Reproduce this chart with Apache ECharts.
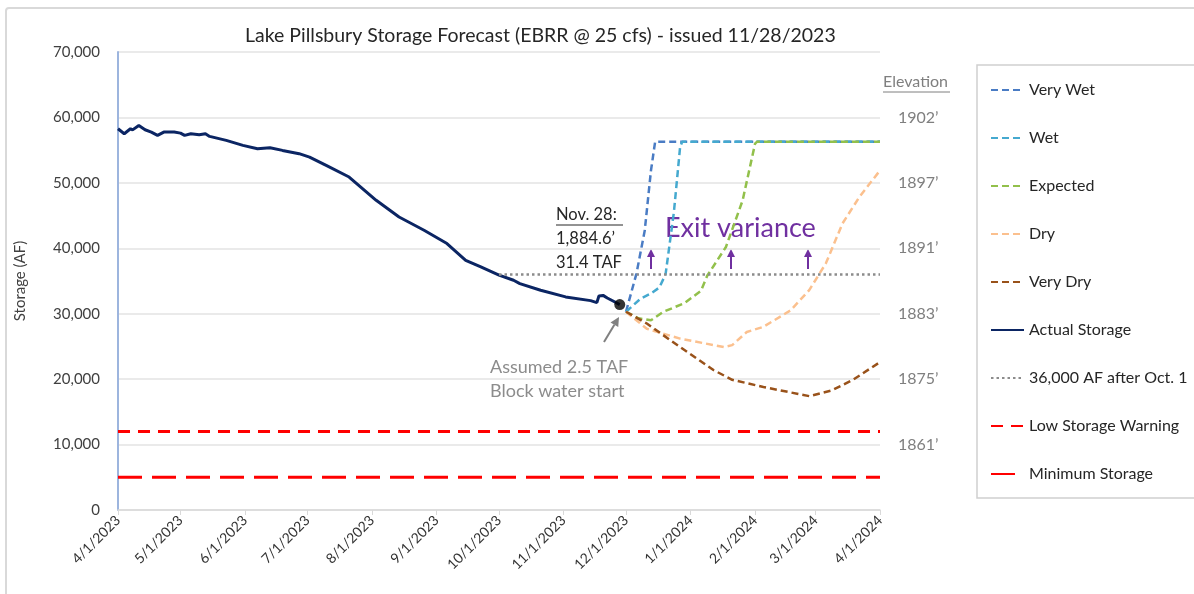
<!DOCTYPE html>
<html>
<head>
<meta charset="utf-8">
<script src="https://cdn.jsdelivr.net/npm/echarts@6/dist/echarts.min.js"></script>
<style>
html,body{margin:0;padding:0;background:#fff;}
#chart{width:1194px;height:594px;}
</style>
</head>
<body>
<div id="chart"></div>
<script>
// ---------- Data ----------
const titleText = 'Lake Pillsbury Storage Forecast (EBRR @ 25 cfs) - issued 11/28/2023';
const xTickLabels = ['4/1/2023','5/1/2023','6/1/2023','7/1/2023','8/1/2023','9/1/2023','10/1/2023','11/1/2023','12/1/2023','1/1/2024','2/1/2024','3/1/2024','4/1/2024'];
const yTickValues = [0, 10000, 20000, 30000, 40000, 50000, 60000, 70000];
const elevationLabels = ['', '1861\u2019', '1875\u2019', '1883\u2019', '1891\u2019', '1897\u2019', '1902\u2019', ''];

const actualDates = ['2023-04-01','2023-04-04','2023-04-07','2023-04-08','2023-04-11','2023-04-14','2023-04-17','2023-04-20','2023-04-23','2023-04-28','2023-05-01','2023-05-03','2023-05-06','2023-05-10','2023-05-13','2023-05-15','2023-05-23','2023-05-31','2023-06-07','2023-06-13','2023-06-19','2023-06-27','2023-07-02','2023-07-10','2023-07-21','2023-08-03','2023-08-14','2023-08-26','2023-09-06','2023-09-15','2023-09-22','2023-10-01','2023-10-08','2023-10-11','2023-10-21','2023-11-02','2023-11-14','2023-11-17','2023-11-18','2023-11-20','2023-11-22','2023-11-25','2023-11-28'];
const actualValues = [58270,57500,58270,58100,58780,58120,57760,57250,57760,57760,57600,57250,57500,57350,57500,57100,56490,55730,55220,55370,54960,54460,53940,52670,50890,47330,44780,42750,40720,38170,37200,35900,35110,34600,33590,32570,32000,31700,32700,32800,32400,31900,31400];

const nowDate = '2023-11-28';
const nowValue = 31400;

const veryWetDates = ['2023-12-01','2023-12-06','2023-12-10','2023-12-13','2023-12-15','2024-04-01'];
const veryWetValues = [30300,36100,42700,51900,56300,56300];

const wetDates = ['2023-12-01','2023-12-08','2023-12-13','2023-12-17','2023-12-20','2023-12-24','2023-12-27','2023-12-28','2024-04-01'];
const wetValues = [30300,32300,33100,34000,36000,45500,55500,56300,56300];

const expectedDates = ['2023-12-01','2023-12-07','2023-12-13','2023-12-19','2023-12-29','2024-01-06','2024-01-09','2024-01-18','2024-01-26','2024-02-01','2024-02-02','2024-04-01'];
const expectedValues = [30300,29300,29000,30300,31600,33500,35800,40200,47300,56000,56300,56300];

const dryDates = ['2023-12-01','2023-12-11','2023-12-27','2024-01-17','2024-01-21','2024-01-28','2024-02-05','2024-02-18','2024-02-27','2024-03-06','2024-03-14','2024-03-22','2024-04-01'];
const dryValues = [30300,27700,26200,24900,25200,27200,28000,30500,33600,37700,43800,47800,51900];

const veryDryDates = ['2023-12-01','2023-12-11','2023-12-27','2024-01-12','2024-01-21','2024-02-05','2024-02-16','2024-02-27','2024-03-09','2024-03-19','2024-04-01'];
const veryDryValues = [30300,28500,24900,21400,19900,18800,18100,17400,18300,19900,22600];

const targetDates = ['2023-10-01','2024-04-01'];
const targetValues = [36000,36000];

const lowWarnDates = ['2023-04-01','2024-04-01'];
const lowWarnValues = [12000,12000];

const minStorageDates = ['2023-04-01','2024-04-01'];
const minStorageValues = [5000,5000];

// ---------- Helpers ----------
function toTs(label) { // m/d/yyyy -> local timestamp
  const p = label.split('/').map(Number);
  return new Date(p[2], p[0]-1, p[1]).getTime();
}
function isoTs(s) {
  const p = s.split('-').map(Number);
  return new Date(p[0], p[1]-1, p[2]).getTime();
}
function pairs(dates, values) { return dates.map((d,i)=>[isoTs(d), values[i]]); }
const xTickTs = xTickLabels.map(toTs);
function labelFor(ts) {
  let best = 0, bd = Infinity;
  xTickTs.forEach((t,i)=>{ const d = Math.abs(t-ts); if (d<bd){bd=d;best=i;} });
  return xTickLabels[best];
}

const FONT = 'Lato';

function dashed(name, dates, values, color, width, type) {
  return {
    name, type:'line', data: pairs(dates, values), symbol:'none', showSymbol:false,
    lineStyle:{color, width, type, cap:'butt'}, itemStyle:{color},
    emphasis:{disabled:true}, animation:false
  };
}

function arrow(x1,y1,x2,y2,color,w,head){
  const ang = Math.atan2(y2-y1, x2-x1);
  const bx = x2 - head*Math.cos(ang), by = y2 - head*Math.sin(ang);
  const px = Math.sin(ang)*head*0.5, py = -Math.cos(ang)*head*0.5;
  return [
    {type:'line', shape:{x1,y1,x2:bx,y2:by}, style:{stroke:color, lineWidth:w}, silent:true},
    {type:'polygon', shape:{points:[[x2,y2],[bx+px,by+py],[bx-px,by-py]]}, style:{fill:color}, silent:true}
  ];
}

const chart = echarts.init(document.getElementById('chart'), null, {renderer:'canvas'});

const graphics = [
  {type:'rect', shape:{x:6,y:8,width:1200,height:600,r:3}, style:{fill:'none', stroke:'#d9d9d9', lineWidth:2}, silent:true, z:-10},
  {type:'rect', shape:{x:977,y:65,width:230,height:433}, style:{fill:'#fff', stroke:'#d0d0d0', lineWidth:1.5}, silent:true, z:-5},
  {type:'text', x:883, y:82, style:{text:'Elevation', fill:'#7f7f7f', font:'16px '+FONT, textVerticalAlign:'middle'}, silent:true},
  {type:'line', shape:{x1:883,y1:92,x2:950,y2:92}, style:{stroke:'#7f7f7f', lineWidth:1}, silent:true},
  {type:'text', x:556, y:215, style:{text:'Nov. 28:', fill:'#262626', font:'16.5px '+FONT, textVerticalAlign:'middle'}, silent:true},
  {type:'line', shape:{x1:556,y1:225,x2:623,y2:225}, style:{stroke:'#262626', lineWidth:1}, silent:true},
  {type:'text', x:556, y:239, style:{text:'1,884.6\u2019', fill:'#262626', font:'16.5px '+FONT, textVerticalAlign:'middle'}, silent:true},
  {type:'text', x:556, y:263, style:{text:'31.4 TAF', fill:'#262626', font:'16.5px '+FONT, textVerticalAlign:'middle'}, silent:true},
  {type:'text', x:665, y:228, style:{text:'Exit variance', fill:'#7030A0', font:'27px '+FONT, textVerticalAlign:'middle'}, silent:true},
  {type:'text', x:490, y:367, style:{text:'Assumed 2.5 TAF', fill:'#8c8c8c', font:'18px '+FONT, textVerticalAlign:'middle'}, silent:true},
  {type:'text', x:490, y:391, style:{text:'Block water start', fill:'#8c8c8c', font:'18px '+FONT, textVerticalAlign:'middle'}, silent:true}
].concat(
  arrow(651,269,651,249,'#7030A0',2,8),
  arrow(731,269,731,249,'#7030A0',2,8),
  arrow(808,269,808,249,'#7030A0',2,8),
  arrow(604,342,619,317,'#808080',2,9)
);

const option = {
  backgroundColor:'#ffffff',
  animation:false,
  textStyle:{fontFamily:FONT},
  title:{
    text:titleText, left:240, top:21,
    textStyle:{fontFamily:FONT, fontSize:19.5, fontWeight:'normal', color:'#262626'}
  },
  legend:{
    orient:'vertical', left:985, top:77, itemWidth:33, itemHeight:14, itemGap:32,
    data:['Very Wet','Wet','Expected','Dry','Very Dry','Actual Storage','36,000 AF after Oct. 1','Low Storage Warning','Minimum Storage'],
    textStyle:{fontFamily:FONT, fontSize:16, color:'#262626'},
    itemStyle:{opacity:0},
    selectedMode:false
  },
  grid:{left:118, right:314, top:52, bottom:84, containLabel:false},
  xAxis:{
    type:'value',
    min:xTickTs[0], max:xTickTs[xTickTs.length-1],
    axisLine:{show:true, lineStyle:{color:'#d9d9d9', width:1.5}},
    axisTick:{show:true, length:5, lineStyle:{color:'#d9d9d9'}, customValues:xTickTs},
    axisLabel:{
      rotate:45, margin:8, color:'#333333', fontSize:14, fontFamily:FONT,
      customValues:xTickTs,
      formatter:function(v){ return labelFor(v); }
    },
    splitLine:{show:false}
  },
  yAxis:[
    {
      type:'value', min:0, max:70000, interval:10000,
      name:'Storage (AF)', nameLocation:'middle', nameGap:90, nameRotate:90,
      nameTextStyle:{fontFamily:FONT, fontSize:15, color:'#404040'},
      axisLine:{show:true, lineStyle:{color:'#9DB5DE', width:2}},
      axisTick:{show:false},
      axisLabel:{margin:18, color:'#404040', fontSize:15, fontFamily:FONT,
        formatter:function(v){ return v.toLocaleString('en-US'); }},
      splitLine:{show:true, lineStyle:{color:'#e3e3e3', width:1.5}}
    },
    {
      type:'value', position:'right', min:0, max:70000, interval:10000,
      axisLine:{show:false}, axisTick:{show:false}, splitLine:{show:false},
      axisLabel:{margin:18, color:'#7f7f7f', fontSize:16, fontFamily:FONT,
        formatter:function(v){ const i = yTickValues.indexOf(v); return i>=0 ? elevationLabels[i] : ''; }}
    }
  ],
  series:[
    dashed('Very Wet', veryWetDates, veryWetValues, '#4A7CC4', 2.5, [7,4]),
    dashed('Wet', wetDates, wetValues, '#45A9CF', 2.5, [7,4]),
    dashed('Expected', expectedDates, expectedValues, '#92C04B', 2.5, [7,4]),
    dashed('Dry', dryDates, dryValues, '#FBC08E', 2.5, [7,4]),
    dashed('Very Dry', veryDryDates, veryDryValues, '#99521A', 2.5, [7,4]),
    dashed('Actual Storage', actualDates, actualValues, '#0B2563', 3, 'solid'),
    dashed('36,000 AF after Oct. 1', targetDates, targetValues, '#8c8c8c', 2.5, [2.5,3]),
    dashed('Low Storage Warning', lowWarnDates, lowWarnValues, '#FF0000', 3, [12,8]),
    dashed('Minimum Storage', minStorageDates, minStorageValues, '#FF0000', 3, [24,10]),
    {
      name:'Nov 28 storage', type:'scatter', data:[[isoTs(nowDate), nowValue]],
      symbol:'circle', symbolSize:11, itemStyle:{color:'#000000'}, z:5,
      emphasis:{disabled:true}, animation:false
    }
  ],
  graphic:graphics
};
chart.setOption(option);
</script>
</body>
</html>
